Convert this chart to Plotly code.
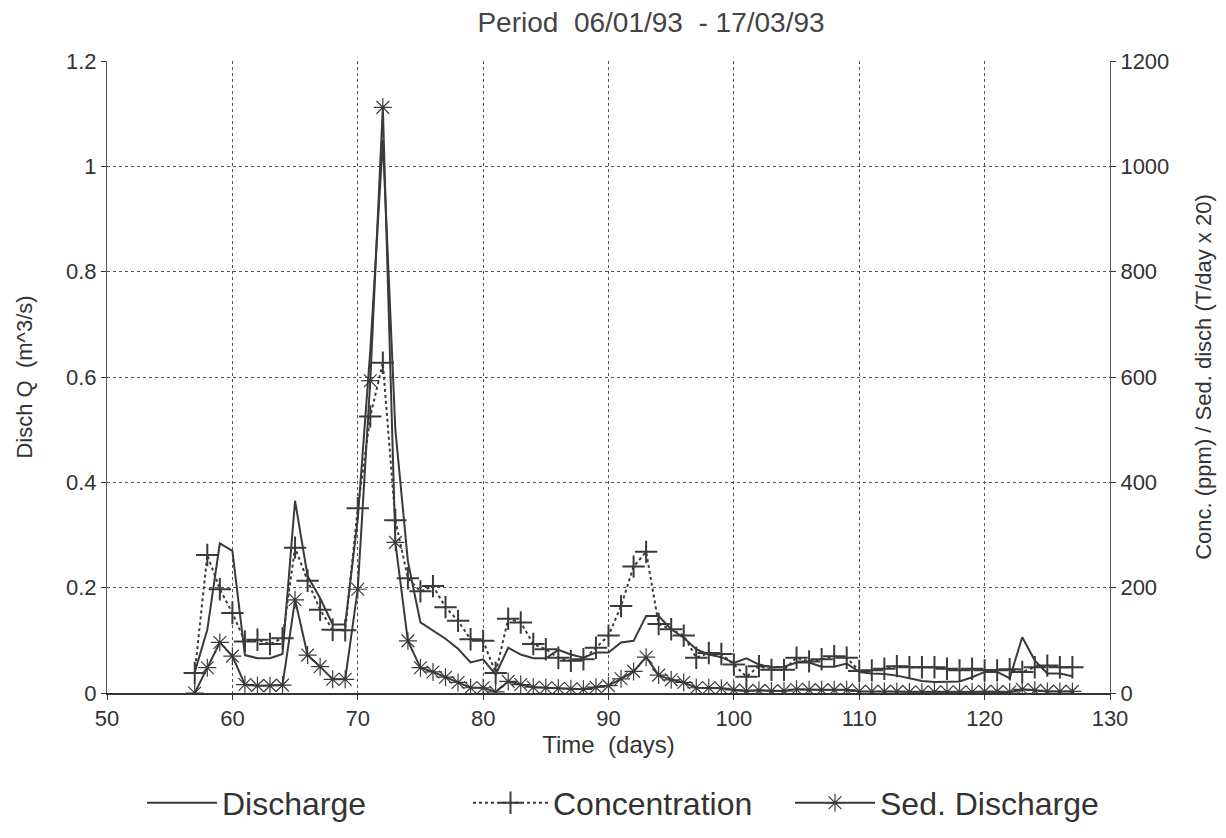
import plotly.graph_objects as go

days = list(range(57, 128))

discharge = [0.040, 0.120, 0.284, 0.270, 0.072, 0.066, 0.066, 0.074, 0.365, 0.222,
             0.180, 0.130, 0.130, 0.330, 0.650, 1.050, 0.500, 0.250, 0.134, 0.118,
             0.103, 0.084, 0.058, 0.064, 0.035, 0.086, 0.073, 0.066, 0.066, 0.082,
             0.073, 0.067, 0.077, 0.077, 0.096, 0.099, 0.146, 0.146, 0.121, 0.105,
             0.083, 0.073, 0.068, 0.057, 0.066, 0.054, 0.049, 0.050, 0.058, 0.058,
             0.050, 0.050, 0.056, 0.040, 0.037, 0.036, 0.033, 0.028, 0.023, 0.021,
             0.021, 0.022, 0.030, 0.040, 0.040, 0.028, 0.106, 0.062, 0.037, 0.037,
             0.032]

concentration = [38, 262, 197, 152, 98, 101, 93, 104, 276, 213,
                 158, 120, 119, 351, 525, 627, 328, 218, 193, 203,
                 163, 137, 102, 99, 38, 141, 134, 93, 83, 67,
                 61, 64, 86, 109, 165, 240, 268, 131, 121, 109,
                 67, 76, 74, 54, 31, 51, 44, 44, 67, 60,
                 64, 70, 67, 42, 43, 46, 51, 49, 49, 49,
                 46, 43, 46, 43, 43, 45, 40, 49, 52, 49,
                 49]

sed_discharge = [0, 48, 96, 70, 16, 14, 14, 15, 177, 72,
                 50, 26, 26, 197, 593, 1112, 286, 99, 48, 40,
                 30, 20, 10, 10, 2, 22, 16, 11, 10, 9,
                 8, 7, 11, 14, 27, 41, 68, 34, 25, 20,
                 10, 10, 9, 6, 4, 5, 4, 4, 7, 6,
                 6, 6, 6, 3, 3, 3, 3, 2, 2, 2,
                 2, 2, 2, 3, 3, 2, 7, 5, 3, 3,
                 3]

LINE = "#3a3a3a"
FONT = "Liberation Sans, Arial, sans-serif"
SP = "\u00a0"

fig = go.Figure()
fig.add_trace(go.Scatter(x=days, y=discharge, name="Discharge", mode="lines",
                         line=dict(color=LINE, width=2), yaxis="y", legend="legend"))
fig.add_trace(go.Scatter(x=days, y=concentration, name="Concentration", mode="lines+markers",
                         line=dict(color=LINE, width=2, dash="dot"),
                         marker=dict(symbol="cross-thin-open", size=16,
                                     line=dict(color=LINE, width=2)),
                         yaxis="y2", legend="legend2"))
fig.add_trace(go.Scatter(x=days, y=sed_discharge, name="Sed. Discharge", mode="lines+markers",
                         line=dict(color=LINE, width=2),
                         marker=dict(symbol="asterisk-open", size=15,
                                     line=dict(color="#777777", width=1.2)),
                         yaxis="y2", legend="legend3"))

LEG_Y = 1 - 803 / 838
leg_common = dict(orientation="h", xref="container", yref="container", y=LEG_Y,
                  yanchor="middle", xanchor="left",
                  font=dict(size=32, color="#333333"), bgcolor="rgba(0,0,0,0)")

fig.update_layout(
    width=1226, height=838,
    margin=dict(l=107, r=116, t=61, b=145),
    paper_bgcolor="white", plot_bgcolor="white",
    font=dict(family=FONT, color="#333333", size=22),
    title=dict(text=f"Period{SP}{SP}06/01/93{SP}{SP}-{SP}17/03/93", x=0.531, xanchor="center",
               y=0.973, yanchor="middle", font=dict(size=28, color="#444444")),
    xaxis=dict(range=[50, 130], dtick=10, tick0=50, showgrid=True,
               gridcolor="#555555", gridwidth=1, griddash="dot",
               showline=True, linecolor="#333333", linewidth=2, mirror=False,
               ticks="outside", ticklen=5, tickcolor="#333333",
               zeroline=False, automargin=False,
               title=dict(text=f"Time{SP}{SP}(days)", standoff=6, font=dict(size=24)),
               tickfont=dict(size=22)),
    yaxis=dict(range=[0, 1.2], dtick=0.2, showgrid=True,
               gridcolor="#555555", gridwidth=1, griddash="dot",
               showline=True, linecolor="#555555", linewidth=1,
               ticks="outside", ticklen=5, tickcolor="#333333",
               zeroline=False, tickformat="~g", automargin=False,
               title=dict(text=f"Disch Q{SP}{SP}(m^3/s)", standoff=27, font=dict(size=22)),
               tickfont=dict(size=22)),
    yaxis2=dict(range=[0, 1200], dtick=200, overlaying="y", side="right",
                showgrid=False, showline=True, linecolor="#555555", linewidth=1,
                ticks="outside", ticklen=5, tickcolor="#333333", zeroline=False,
                automargin=False,
                title=dict(text="Conc. (ppm) / Sed. disch (T/day x 20)", standoff=27,
                           font=dict(size=22)),
                tickfont=dict(size=22)),
    legend=dict(**leg_common, x=142 / 1226, itemwidth=70),
    legend2=dict(**leg_common, x=468 / 1226, itemwidth=75),
    legend3=dict(**leg_common, x=790 / 1226, itemwidth=80),
    showlegend=True,
)

fig.write_html("out.html")
